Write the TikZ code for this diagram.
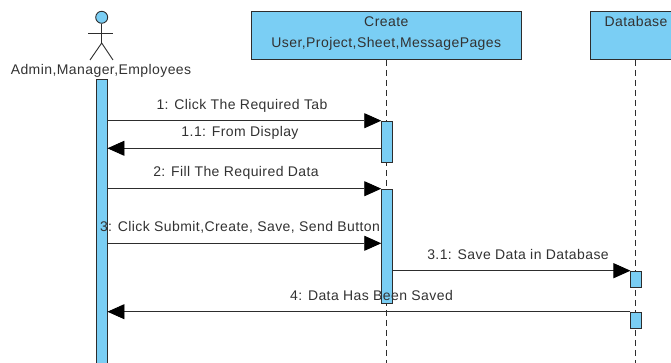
\documentclass[tikz,border=0pt]{standalone}
\usepackage{fontspec}
\setmainfont{Liberation Sans}
\newfontfamily\vpfont[LetterSpace=3]{Liberation Sans}
\usetikzlibrary{arrows.meta}
\definecolor{barblue}{RGB}{122,206,244}
\definecolor{ink}{RGB}{45,45,45}
\definecolor{txt}{RGB}{50,50,50}
\begin{document}
\begin{tikzpicture}[x=1pt,y=-1pt,
  lbl/.style={font=\vpfont\fontsize{14}{17}\selectfont, text=txt, inner sep=0pt, anchor=base},
  bar/.style={draw=ink, fill=barblue, line width=0.9pt, minimum width=10.6pt, inner sep=0pt, anchor=north},
  lifebox/.style={draw=ink, fill=barblue, line width=0.9pt, inner sep=0pt},
  lifeline/.style={draw=ink, line width=0.9pt, dash pattern=on 6pt off 4pt},
  stick/.style={draw=ink, line width=0.9pt},
  msg/.style={draw=ink, line width=0.9pt, -{Triangle[length=17pt,width=15pt,color=black,fill=black]}}
]
\useasboundingbox (0,0) rectangle (671,363);
\clip (0,0) rectangle (671,363);
\coordinate (bottom) at (0,370);
% actor
\node[circle, draw=ink, fill=barblue, line width=0.9pt, minimum size=12pt, inner sep=0pt] (head) at (101.7,17.3) {};
\coordinate (hip) at (101.7,43);
\coordinate (armL) at (88,33);
\coordinate (armR) at (113,33);
\coordinate (legL) at (90,60);
\coordinate (legR) at (113,60);
\draw[stick] (head.south) -- (hip);
\draw[stick] (armL) -- (armR);
\draw[stick] (legL) -- (hip) -- (legR);
\node[lbl] (actorname) at (101,75) {Admin,Manager,Employees};
% lifeline heads
\node[lifebox, minimum width=270.7pt, minimum height=48.3pt] (cbox) at (386.3,35.2) {};
\node[lbl] (ct1) at (386.3,27) {Create};
\node[lbl] (ct2) at (386.3,48) {User,Project,Sheet,MessagePages};
\node[lifebox, minimum width=90pt, minimum height=48.3pt] (dbox) at (635.7,35.2) {};
\node[lbl] (dt) at (636,27) {Database};
% lifelines
\draw[lifeline] (cbox.south) -- (cbox.south |- bottom);
\draw[lifeline] (dbox.south) -- (dbox.south |- bottom);
% activation bars
\node[bar, minimum height=300pt] (A) at (101.7,79.3) {};
\node[bar, minimum height=41pt] (C1) at (387,120.7) {};
\node[bar, minimum height=114.6pt] (C2) at (387,188.7) {};
\node[bar, minimum height=16pt] (D1) at (636.2,270.7) {};
\node[bar, minimum height=16pt] (D2) at (636.2,311.7) {};
% messages
\coordinate (y11) at (0,148.3);
\coordinate (y3) at (0,243.3);
\draw[msg] (A.east |- C1.north) -- (C1.north west);
\draw[msg] (C1.west |- y11) -- (A.east |- y11);
\draw[msg] (A.east |- C2.north) -- (C2.north west);
\draw[msg] (A.east |- y3) -- (C2.west |- y3);
\draw[msg] (C2.east |- D1.north) -- (D1.north west);
\draw[msg] (D2.north west) -- (A.east |- D2.north);
% labels
\node[lbl] (l1) at (242,109.3) {1: Click The Required Tab};
\node[lbl] (l11) at (240,136.7) {1.1: From Display};
\node[lbl] (l2) at (236,176.7) {2: Fill The Required Data};
\node[lbl] (l3) at (240,231.7) {3: Click Submit,Create, Save, Send Button};
\node[lbl] (l31) at (518,259) {3.1: Save Data in Database};
\node[lbl] (l4) at (371.5,300) {4: Data Has Been Saved};
\end{tikzpicture}
\end{document}
